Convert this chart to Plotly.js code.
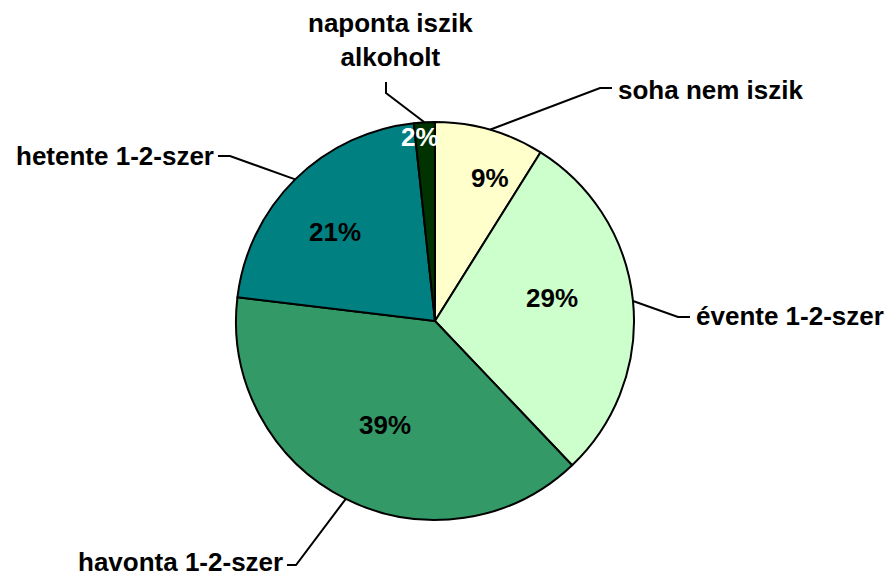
<!DOCTYPE html>
<html><head><meta charset="utf-8">
<script src="https://cdn.plot.ly/plotly-3.0.1.min.js"></script>
<style>html,body{margin:0;padding:0;background:#fff}#c{width:891px;height:577px}</style>
</head><body><div id="c"></div>
<script>
// Data
const categories = ["soha nem iszik", "évente 1-2-szer", "havonta 1-2-szer", "hetente 1-2-szer", "naponta iszik alkoholt"];
const values = [8.9, 29.0, 39.0, 21.4, 1.7];
const percentLabels = ["9%", "29%", "39%", "21%", "2%"];
const colors = ["#FFFFCC", "#CCFFCC", "#339966", "#008080", "#003300"];

// Layout (pixels)
const W = 891, H = 577;
const CX = 435, CY = 321, R = 199;
const px = x => x / W, py = y => 1 - y / H;
const FONT = {family: "Liberation Sans, Arial, sans-serif", size: 26, color: "#000", weight: "bold"};

// percent label placement tweaks: [radius fraction, angle offset deg, text color]
const pctPlace = [[0.77, 5, "#000"], [0.60, -5.2, "#000"], [0.58, -1, "#000"], [0.67, -3.7, "#000"], [0.93, -1.7, "#fff"]];
// category label placement: elbow point, line end, text anchor point, xanchor
const catPlace = [
  {elbow: [600, 88], end: [612, 88], text: [616, 90], xa: "left"},
  {elbow: [678, 317], end: [690, 317], text: [694, 316], xa: "left"},
  {elbow: [296, 565], end: [287, 565], text: [285, 562], xa: "right"},
  {elbow: [230, 156], end: [218, 156], text: [216, 156], xa: "right"},
  {elbow: [386, 93], end: [386, 82], text: [390, 40], xa: "center"}
];

const total = values.reduce((a, b) => a + b, 0);
let cum = 0;
const annotations = [], shapes = [];
values.forEach((v, i) => {
  const mid = (cum + v / 2) / total * 360;
  cum += v;
  const rad = a => a * Math.PI / 180;
  // percent label
  const [rf, da, col] = pctPlace[i];
  const a = rad(mid + da);
  annotations.push({
    xref: "paper", yref: "paper", showarrow: false,
    x: px(CX + rf * R * Math.sin(a)), y: py(CY - rf * R * Math.cos(a)),
    text: percentLabels[i], font: Object.assign({}, FONT, {color: col}),
    xanchor: "center", yanchor: "middle"
  });
  // leader line
  const m = rad(mid);
  const ex = CX + R * Math.sin(m), ey = CY - R * Math.cos(m);
  const p = catPlace[i];
  shapes.push({
    type: "path", xref: "paper", yref: "paper",
    path: `M ${px(ex)} ${py(ey)} L ${px(p.elbow[0])} ${py(p.elbow[1])} L ${px(p.end[0])} ${py(p.end[1])}`,
    line: {color: "#000", width: 2}
  });
  // category label
  const txt = categories[i] === "naponta iszik alkoholt" ? "naponta iszik<br>alkoholt" : categories[i];
  annotations.push({
    xref: "paper", yref: "paper", showarrow: false,
    x: px(p.text[0]), y: py(p.text[1]),
    text: txt, font: FONT, xanchor: p.xa, yanchor: "middle", align: "center"
  });
});

const trace = {
  type: "pie", labels: categories, values: values, sort: false,
  direction: "clockwise", rotation: 0,
  marker: {colors: colors, line: {color: "#000", width: 2}},
  textinfo: "none", hoverinfo: "label+percent", showlegend: false,
  domain: {x: [px(CX - R), px(CX + R)], y: [py(CY + R), py(CY - R)]}
};

Plotly.newPlot("c", [trace], {
  width: W, height: H, margin: {l: 0, r: 0, t: 0, b: 0},
  paper_bgcolor: "#fff", plot_bgcolor: "#fff", showlegend: false,
  annotations: annotations, shapes: shapes
}, {displayModeBar: false, staticPlot: true});
</script></body></html>
